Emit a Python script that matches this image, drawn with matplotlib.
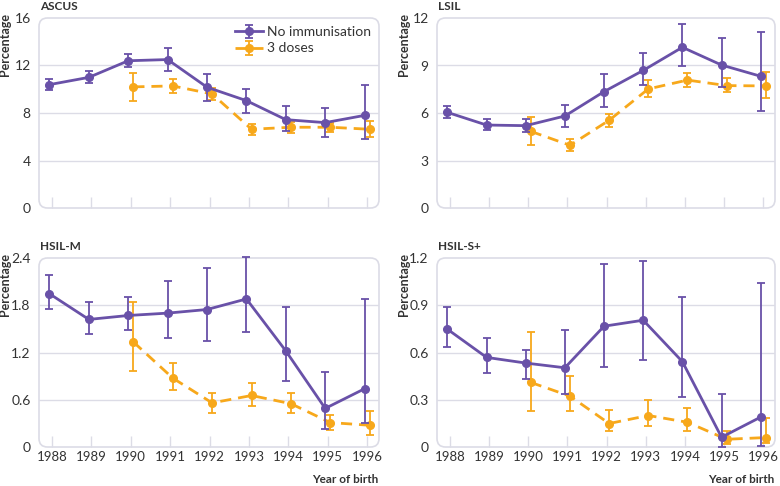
import matplotlib
matplotlib.use("Agg")
import matplotlib.pyplot as plt
from matplotlib.patches import FancyBboxPatch
import numpy as np

plt.rcParams['font.family'] = ['Lato', 'DejaVu Sans']

years = [1988, 1989, 1990, 1991, 1992, 1993, 1994, 1995, 1996]
years_dose = [1990, 1991, 1992, 1993, 1994, 1995, 1996]

# ASCUS
ascus_none = [10.39, 11.0, 12.4, 12.5, 10.17, 9.04, 7.44, 7.19, 7.8]
ascus_none_lo = [9.9, 10.5, 11.85, 11.5, 9.0, 8.0, 6.5, 6.0, 5.81]
ascus_none_hi = [10.9, 11.5, 13.0, 13.45, 11.26, 10.0, 8.62, 8.4, 10.34]
ascus_dose = [10.2, 10.28, 9.6, 6.63, 6.8, 6.8, 6.63]
ascus_dose_lo = [9.04, 9.72, 9.13, 6.18, 6.35, 6.4, 5.96]
ascus_dose_hi = [11.35, 10.87, 10.1, 7.05, 7.28, 7.16, 7.33]

# LSIL
lsil_none = [6.04, 5.24, 5.2, 5.81, 7.35, 8.69, 10.15, 9.03, 8.32]
lsil_none_lo = [5.68, 4.9, 4.78, 5.09, 6.4, 7.75, 8.95, 7.64, 6.15]
lsil_none_hi = [6.42, 5.62, 5.62, 6.53, 8.46, 9.79, 11.64, 10.72, 11.12]
lsil_dose = [4.84, 3.96, 5.54, 7.52, 8.08, 7.73, 7.71]
lsil_dose_lo = [3.96, 3.58, 5.12, 6.99, 7.64, 7.35, 6.97]
lsil_dose_hi = [5.77, 4.34, 5.94, 8.06, 8.55, 8.19, 8.57]

# HSIL-M
hsilm_none = [1.946, 1.62, 1.67, 1.70, 1.746, 1.88, 1.22, 0.49, 0.74]
hsilm_none_lo = [1.75, 1.436, 1.48, 1.39, 1.34, 1.457, 0.84, 0.23, 0.30]
hsilm_none_hi = [2.19, 1.835, 1.90, 2.11, 2.27, 2.41, 1.78, 0.95, 1.88]
hsilm_dose = [1.334, 0.875, 0.56, 0.654, 0.55, 0.31, 0.276]
hsilm_dose_lo = [0.964, 0.72, 0.43, 0.52, 0.43, 0.217, 0.153]
hsilm_dose_hi = [1.84, 1.07, 0.69, 0.815, 0.68, 0.41, 0.46]

# HSIL-S+
hsils_none = [0.748, 0.569, 0.533, 0.503, 0.767, 0.805, 0.542, 0.062, 0.19]
hsils_none_lo = [0.633, 0.472, 0.429, 0.338, 0.51, 0.552, 0.316, 0.0, 0.004]
hsils_none_hi = [0.892, 0.695, 0.616, 0.746, 1.164, 1.179, 0.954, 0.338, 1.043]
hsils_dose = [0.41, 0.323, 0.149, 0.20, 0.157, 0.049, 0.06]
hsils_dose_lo = [0.227, 0.229, 0.10, 0.134, 0.10, 0.017, 0.023]
hsils_dose_hi = [0.729, 0.452, 0.236, 0.30, 0.25, 0.10, 0.185]

titles = ["ASCUS", "LSIL", "HSIL-M", "HSIL-S+"]
yticks_list = [[0, 4, 8, 12, 16], [0, 3, 6, 9, 12],
               [0, 0.6, 1.2, 1.8, 2.4], [0, 0.3, 0.6, 0.9, 1.2]]
ytick_labels = [["0", "4", "8", "12", "16"], ["0", "3", "6", "9", "12"],
                ["0", "0.6", "1.2", "1.8", "2.4"], ["0", "0.3", "0.6", "0.9", "1.2"]]
legend_labels = ["No immunisation", "3 doses"]

panels = [
    (ascus_none, ascus_none_lo, ascus_none_hi, ascus_dose, ascus_dose_lo, ascus_dose_hi),
    (lsil_none, lsil_none_lo, lsil_none_hi, lsil_dose, lsil_dose_lo, lsil_dose_hi),
    (hsilm_none, hsilm_none_lo, hsilm_none_hi, hsilm_dose, hsilm_dose_lo, hsilm_dose_hi),
    (hsils_none, hsils_none_lo, hsils_none_hi, hsils_dose, hsils_dose_lo, hsils_dose_hi),
]

PURPLE = '#6951a8'
ORANGE = '#f7a81b'
GRID = '#dcdce6'
TEXT = '#333333'

fig = plt.figure(figsize=(7.8, 4.86), dpi=100)
W, H = 780, 486
boxes = [(39, 18, 340, 190), (437, 18, 338, 190), (39, 258, 340, 189), (437, 258, 338, 189)]
ylab_x = [5, 404, 5, 404]

dodge = 0.065
for i, (bx, by, bw, bh) in enumerate(boxes):
    ax = fig.add_axes([bx / W, 1 - (by + bh) / H, bw / W, bh / H])
    none, nlo, nhi, dose, dlo, dhi = panels[i]
    yrs = np.array(years, dtype=float)
    yd = np.array(years_dose, dtype=float)
    none = np.array(none); nlo = np.array(nlo); nhi = np.array(nhi)
    dose = np.array(dose); dlo = np.array(dlo); dhi = np.array(dhi)
    e1 = ax.errorbar(yrs - dodge, none, yerr=[none - nlo, nhi - none], color=PURPLE,
                     lw=2, marker='o', ms=5.5, capsize=3, elinewidth=1.3, capthick=1.3,
                     zorder=4, clip_on=False, label=legend_labels[0])
    e2 = ax.errorbar(yd + dodge, dose, yerr=[dose - dlo, dhi - dose], color=ORANGE,
                     lw=2, ls=(0, (4, 2.5)), marker='o', ms=5.5, capsize=3, elinewidth=1.3,
                     capthick=1.3, zorder=3, clip_on=False, label=legend_labels[1])
    yt = yticks_list[i]
    ax.set_ylim(yt[0], yt[-1])
    ax.set_xlim(1987.67, 1996.3)
    ax.set_yticks(yt)
    ax.set_yticklabels(ytick_labels[i])
    for v in yt[1:-1]:
        ax.axhline(v, color=GRID, lw=1, zorder=1)
    for s in ax.spines.values():
        s.set_visible(False)
    patch = FancyBboxPatch((0, 0), 1, 1, boxstyle="round,pad=0,rounding_size=0.025",
                           transform=ax.transAxes, fc='none', ec=GRID, lw=1.2,
                           clip_on=False, zorder=2, mutation_aspect=bw / bh)
    ax.add_patch(patch)
    ax.set_xticks(years)
    ax.tick_params(axis='x', direction='in', length=8, color=GRID, width=1, labelsize=9.5,
                   labelcolor=TEXT, pad=3)
    ax.tick_params(axis='y', length=0, labelsize=10, labelcolor=TEXT, pad=6)
    if i < 2:
        ax.set_xticklabels([])
    else:
        ax.set_xticklabels([str(y) for y in years])
        fig.text((bx + bw - 1) / W, 1 - 479 / H, "Year of birth", fontsize=8.5,
                 fontweight='bold', color=TEXT, ha='right', va='center')
    fig.text(ylab_x[i] / W, 1 - (by - 5) / H, "Percentage", fontsize=9,
             fontweight='bold', color=TEXT, rotation=90, ha='center', va='top')
    fig.text((bx + 1) / W, 1 - (by - 11) / H, titles[i], fontsize=8.5,
             fontweight='bold', color=TEXT, ha='left', va='center')
    if i == 0:
        ax.legend(handles=[e1, e2], loc='upper right', frameon=False, fontsize=10,
                  handlelength=2.0, borderaxespad=0.2, labelspacing=0.3,
                  handletextpad=0.3, labelcolor=TEXT)

fig.savefig("out.png", dpi=100)
